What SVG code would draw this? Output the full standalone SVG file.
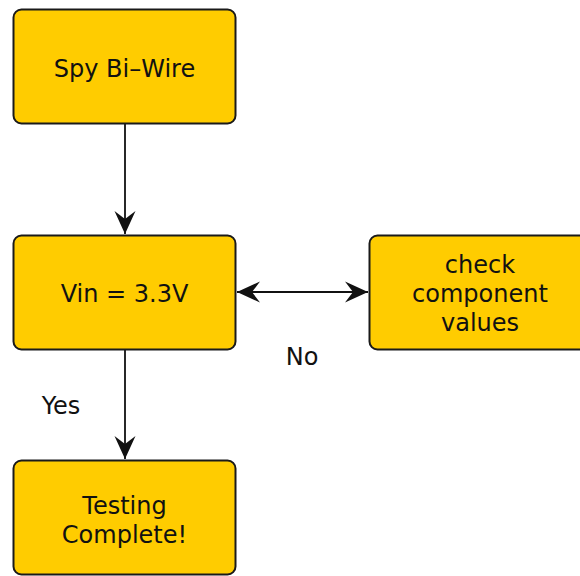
<svg xmlns="http://www.w3.org/2000/svg" width="580" height="576" viewBox="0 0 580 576">
  <style>
    .box { fill: #FFCC00; stroke: #1a1a1a; stroke-width: 2; }
    .label { font-family: "DejaVu Sans", "Verdana", sans-serif; font-size: 24px; fill: #111; text-anchor: middle; }
    .edge { stroke: #111; stroke-width: 1.8; fill: none; }
  </style>
  <defs>
    <marker id="head" viewBox="-24 -11 25 22" refX="0" refY="0" markerWidth="25" markerHeight="22" markerUnits="userSpaceOnUse" orient="auto-start-reverse">
      <path d="M0,0 L-23,-10.5 L-15,0 L-23,10.5 Z" fill="#111"/>
    </marker>
  </defs>

  <g id="connectors">
    <line class="edge" x1="125" y1="124" x2="125" y2="234" marker-end="url(#head)"/>
    <line class="edge" x1="237" y1="292" x2="368" y2="292" marker-start="url(#head)" marker-end="url(#head)"/>
    <line class="edge" x1="125" y1="350" x2="125" y2="459" marker-end="url(#head)"/>
    <text class="label" x="302" y="365">No</text>
    <text class="label" x="61" y="414">Yes</text>
  </g>

  <g id="spy-bi-wire">
    <rect class="box" x="13.5" y="9.5" width="222" height="114" rx="8"/>
    <text class="label" x="124.5" y="77">Spy Bi–Wire</text>
  </g>

  <g id="vin-check">
    <rect class="box" x="13.5" y="235.5" width="222" height="114" rx="8"/>
    <text class="label" x="124.5" y="302">Vin = 3.3V</text>
  </g>

  <g id="check-components">
    <rect class="box" x="369.5" y="235.5" width="222" height="114" rx="8"/>
    <text class="label" x="480" y="273">check</text>
    <text class="label" x="480" y="302">component</text>
    <text class="label" x="480" y="331">values</text>
  </g>

  <g id="testing-complete">
    <rect class="box" x="13.5" y="460.5" width="222" height="114" rx="8"/>
    <text class="label" x="124.5" y="514">Testing</text>
    <text class="label" x="124.5" y="543">Complete!</text>
  </g>
</svg>
